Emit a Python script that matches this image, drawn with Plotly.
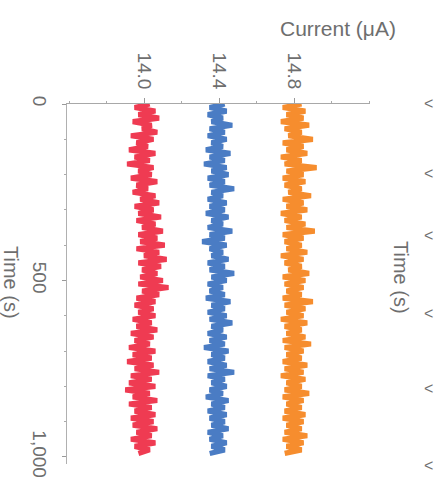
import plotly.graph_objects as go

# sample times (s)
time_s = [0, 10, 20, 30, 40, 50, 60, 70, 80, 90,
          100, 110, 120, 130, 140, 150, 160, 170, 180, 190,
          200, 210, 220, 230, 240, 250, 260, 270, 280, 290,
          300, 310, 320, 330, 340, 350, 360, 370, 380, 390,
          400, 410, 420, 430, 440, 450, 460, 470, 480, 490,
          500, 510, 520, 530, 540, 550, 560, 570, 580, 590,
          600, 610, 620, 630, 640, 650, 660, 670, 680, 690,
          700, 710, 720, 730, 740, 750, 760, 770, 780, 790,
          800, 810, 820, 830, 840, 850, 860, 870, 880, 890,
          900, 910, 920, 930, 940, 950, 960, 970, 980, 990]

red_current = [14.03, 13.95, 14.06, 13.97, 14.08, 13.94, 14.04, 13.99, 14.07, 13.93,
               14.05, 13.96, 14.02, 13.92, 14.06, 13.95, 14.03, 13.91, 14.05, 13.97,
               14.04, 13.93, 14.07, 13.96, 14.02, 13.94, 14.06, 13.98, 14.08, 13.95,
               14.05, 13.97, 14.09, 13.96, 14.06, 13.99, 14.10, 13.97, 14.07, 13.98,
               14.11, 13.96, 14.08, 14.00, 14.12, 13.97, 14.09, 13.99, 14.07, 13.98,
               14.10, 13.97, 14.13, 13.99, 14.08, 13.96, 14.06, 13.95, 14.05, 13.97,
               14.06, 13.94, 14.04, 13.96, 14.07, 13.93, 14.05, 13.95, 14.03, 13.92,
               14.06, 13.94, 14.04, 13.91, 14.05, 13.95, 14.08, 13.93, 14.04, 13.92,
               14.06, 13.90, 14.03, 13.94, 14.07, 13.92, 14.04, 13.95, 14.06, 13.93,
               14.05, 13.94, 14.07, 13.96, 14.04, 13.93, 14.06, 13.95, 14.03, 13.97]

blue_current = [14.43, 14.35, 14.44, 14.34, 14.42, 14.36, 14.47, 14.35, 14.43, 14.34,
                14.44, 14.36, 14.42, 14.33, 14.46, 14.35, 14.43, 14.32, 14.44, 14.36,
                14.45, 14.34, 14.43, 14.35, 14.48, 14.36, 14.42, 14.34, 14.44, 14.35,
                14.43, 14.33, 14.45, 14.36, 14.42, 14.34, 14.47, 14.35, 14.43, 14.31,
                14.44, 14.35, 14.42, 14.36, 14.45, 14.34, 14.43, 14.35, 14.48, 14.36,
                14.44, 14.34, 14.42, 14.35, 14.43, 14.33, 14.46, 14.36, 14.43, 14.34,
                14.44, 14.35, 14.47, 14.36, 14.42, 14.34, 14.44, 14.35, 14.43, 14.32,
                14.45, 14.36, 14.43, 14.34, 14.44, 14.35, 14.48, 14.34, 14.43, 14.36,
                14.44, 14.35, 14.42, 14.33, 14.45, 14.36, 14.43, 14.34, 14.44, 14.35,
                14.43, 14.36, 14.45, 14.34, 14.42, 14.35, 14.44, 14.36, 14.43, 14.35]

orange_current = [14.84, 14.74, 14.86, 14.76, 14.85, 14.73, 14.88, 14.75, 14.84, 14.77,
                  14.90, 14.74, 14.85, 14.76, 14.87, 14.73, 14.84, 14.75, 14.92, 14.76,
                  14.85, 14.74, 14.86, 14.75, 14.84, 14.77, 14.89, 14.74, 14.85, 14.76,
                  14.87, 14.73, 14.84, 14.75, 14.86, 14.76, 14.91, 14.74, 14.85, 14.75,
                  14.84, 14.76, 14.87, 14.73, 14.85, 14.75, 14.84, 14.77, 14.88, 14.74,
                  14.86, 14.75, 14.85, 14.76, 14.84, 14.74, 14.90, 14.75, 14.86, 14.76,
                  14.85, 14.73, 14.87, 14.75, 14.84, 14.76, 14.86, 14.74, 14.89, 14.75,
                  14.85, 14.76, 14.84, 14.74, 14.87, 14.75, 14.85, 14.73, 14.86, 14.76,
                  14.84, 14.75, 14.88, 14.74, 14.85, 14.76, 14.84, 14.75, 14.86, 14.74,
                  14.85, 14.76, 14.84, 14.75, 14.87, 14.74, 14.85, 14.76, 14.84, 14.75]

current_ticks = [14.0, 14.4, 14.8]
current_tick_labels = ["14.0", "14.4", "14.8"]
current_minor = [13.6, 13.8, 14.2, 14.6, 15.0, 15.2]
time_ticks = [0, 500, 1000]
time_tick_labels = ["0", "500", "1,000"]
time_minor = [100, 200, 300, 400, 600, 700, 800, 900]

FONT = "Liberation Sans, Arial, sans-serif"
GRAY = "#6e6e6e"

fig = go.Figure()
for vals, col in [(red_current, "#EF3B52"), (blue_current, "#4A7CC4"), (orange_current, "#F68D2E")]:
    fig.add_trace(go.Scatter(x=vals, y=time_s, mode="lines",
                             line=dict(color=col, width=5.2), showlegend=False,
                             hoverinfo="skip"))

fig.update_layout(
    width=443, height=502,
    margin=dict(l=0, r=0, t=0, b=0, autoexpand=False),
    paper_bgcolor="white", plot_bgcolor="white",
    font=dict(family=FONT, color=GRAY, size=19),
    xaxis=dict(domain=[67/443, 370/443], range=[13.589, 15.205], side="top",
               automargin=False,
               tickmode="array", tickvals=current_ticks, ticktext=current_tick_labels,
               tickangle=90, ticks="outside", ticklen=5, tickcolor="#999",
               ticklabelstandoff=2,
               showline=True, linecolor="#a8a8a8", linewidth=1,
               showgrid=False, zeroline=False,
               minor=dict(tickvals=current_minor, ticks="outside", ticklen=2, tickcolor="#aaa")),
    yaxis=dict(domain=[0.0757, 0.7928], range=[1020, 0],
               automargin=False,
               tickmode="array", tickvals=time_ticks, ticktext=time_tick_labels,
               tickangle=90, ticks="outside", ticklen=4, tickcolor="#999",
               ticklabelstandoff=6,
               showline=True, linecolor="#b0b0b0", linewidth=1,
               showgrid=False, zeroline=False,
               minor=dict(tickvals=time_minor, ticks="outside", ticklen=2, tickcolor="#aaa")),
)

ann = [
    dict(text="Current (μA)", x=338/443, y=1-29/502, textangle=0, size=21),
    dict(text="Time (s)", x=11/443, y=1-282/502, textangle=90, size=20),
    dict(text="Time (s)", x=401/443, y=1-277/502, textangle=90, size=20),
]
for a in ann:
    fig.add_annotation(text=a["text"], xref="paper", yref="paper", x=a["x"], y=a["y"],
                       xanchor="center", yanchor="middle", showarrow=False,
                       textangle=a["textangle"], font=dict(size=a["size"], color=GRAY, family=FONT))

# cropped tick marks of the neighbouring panel at the right edge
for yy in [103, 173, 235, 313, 388, 465]:
    fig.add_annotation(text="&lt;", xref="paper", yref="paper", x=428/443, y=1-yy/502,
                       xanchor="center", yanchor="middle", showarrow=False,
                       font=dict(size=16, color="#707070", family=FONT))

fig.write_html("out.html", config={"displayModeBar": False},
               post_script="document.body.style.margin='0';")
